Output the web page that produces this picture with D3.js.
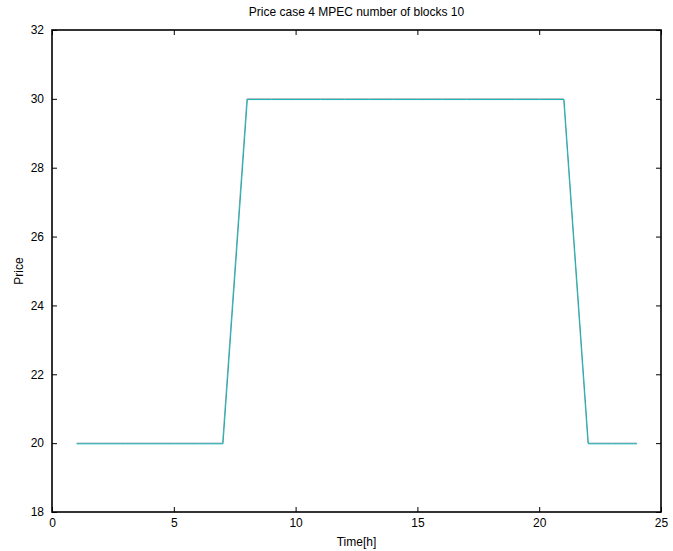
<!DOCTYPE html>
<html>
<head>
<meta charset="utf-8">
<script src="https://cdn.jsdelivr.net/npm/d3@7"></script>
<style>
  body { margin: 0; background: #fff; }
  text { font-family: "Liberation Sans", Arial, sans-serif; }
</style>
</head>
<body>
<div id="chart"></div>
<script>
const hours = [1, 2, 3, 4, 5, 6, 7, 8, 9, 10, 11, 12, 13, 14, 15, 16, 17, 18, 19, 20, 21, 22, 23, 24];
const priceA = [20, 20, 20, 20, 20, 20, 20, 30, 30, 30, 30, 30, 30, 30, 30, 30, 30, 30, 30, 30, 30, 20, 20, 20];
const priceB = [20, 20, 20, 20, 20, 20, 20, 30, 30, 30, 30, 30, 30, 30, 30, 30, 30, 30, 30, 30, 30, 20, 20, 20];
const xTicks = [0, 5, 10, 15, 20, 25];
const yTicks = [18, 20, 22, 24, 26, 28, 30, 32];

const width = 673;
const height = 551;
const margin = { top: 30, right: 12, bottom: 39, left: 52 };
const plotW = width - margin.left - margin.right;
const plotH = height - margin.top - margin.bottom;

const svg = d3.select("#chart").append("svg")
    .attr("width", width)
    .attr("height", height);

const g = svg.append("g")
    .attr("transform", `translate(${margin.left},${margin.top})`);

const x = d3.scaleLinear().domain([0, 25]).range([0, plotW]);
const y = d3.scaleLinear().domain([18, 32]).range([plotH, 0]);

// axes, ticks pointing inward like matlab
const tickLen = 5;
g.append("g")
    .attr("transform", `translate(0,${plotH})`)
    .call(d3.axisBottom(x).tickValues(xTicks).tickSizeInner(-tickLen).tickSizeOuter(0).tickPadding(6));
g.append("g")
    .call(d3.axisTop(x).tickValues(xTicks).tickSizeInner(-tickLen).tickSizeOuter(0).tickFormat(""));
g.append("g")
    .call(d3.axisLeft(y).tickValues(yTicks).tickSizeInner(-tickLen).tickSizeOuter(0).tickPadding(8));
g.append("g")
    .attr("transform", `translate(${plotW},0)`)
    .call(d3.axisRight(y).tickValues(yTicks).tickSizeInner(-tickLen).tickSizeOuter(0).tickFormat(""));

g.selectAll(".domain").attr("stroke", "none");
g.selectAll(".tick line").attr("stroke", "#000");
g.selectAll(".tick text")
    .attr("font-size", "12px")
    .attr("fill", "#000");

g.append("rect")
    .attr("width", plotW)
    .attr("height", plotH)
    .attr("fill", "none")
    .attr("stroke", "#000")
    .attr("stroke-width", 1.6);

const line = d3.line()
    .x((d, i) => x(hours[i]))
    .y(d => y(d));

g.append("path")
    .datum(priceA)
    .attr("d", line)
    .attr("fill", "none")
    .attr("stroke", "#9a9aa6")
    .attr("stroke-width", 1);

g.append("path")
    .datum(priceB)
    .attr("d", line)
    .attr("transform", "translate(0.5,0.7)")
    .attr("fill", "none")
    .attr("stroke", "#10b4b4")
    .attr("stroke-width", 1);

svg.append("text")
    .attr("x", margin.left + plotW / 2)
    .attr("y", 16)
    .attr("text-anchor", "middle")
    .attr("font-size", "12px")
    .text("Price case 4 MPEC number of blocks 10");

svg.append("text")
    .attr("x", margin.left + plotW / 2)
    .attr("y", 546)
    .attr("text-anchor", "middle")
    .attr("font-size", "12px")
    .text("Time[h]");

svg.append("text")
    .attr("transform", `translate(23,${margin.top + plotH / 2}) rotate(-90)`)
    .attr("text-anchor", "middle")
    .attr("font-size", "12px")
    .text("Price");
</script>
</body>
</html>
